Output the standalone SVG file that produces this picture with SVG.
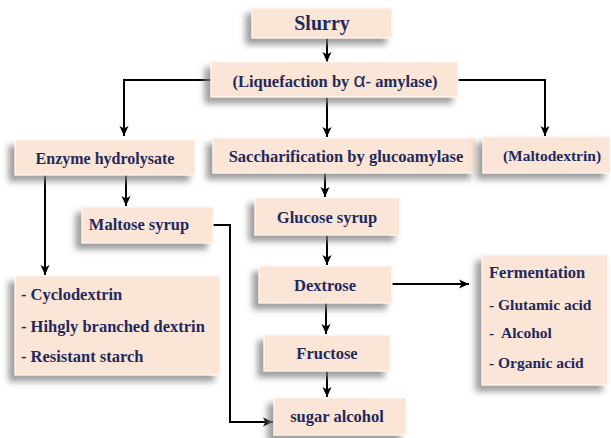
<svg xmlns="http://www.w3.org/2000/svg" width="611" height="438" viewBox="0 0 611 438">
<defs>
<filter id="sh" x="-20%" y="-30%" width="140%" height="170%">
<feDropShadow dx="-6" dy="6" stdDeviation="3" flood-color="#7f7f7f" flood-opacity="0.75"/>
</filter>
<marker id="ah" markerUnits="userSpaceOnUse" markerWidth="10" markerHeight="10" viewBox="0 0 10 10" refX="10" refY="5" orient="auto">
<path d="M0,0.5 L10,5 L0,9.5 L2.5,5 z" fill="#000"/>
</marker>
</defs>
<style>
.box{fill:#fbe5d6;stroke:#fff6ef;stroke-width:1.2;filter:url(#sh)}
.t{font-family:"Liberation Serif","Times New Roman",serif;font-weight:bold;fill:#1f2a5c;font-size:16.5px}
.c{text-anchor:middle}
.ln{fill:none;stroke:#000;stroke-width:2;marker-end:url(#ah)}
</style>
<rect width="611" height="438" fill="#fff"/>
<g id="connectors">
<path class="ln" d="M327,38 V62"/>
<path class="ln" d="M211,80 H124 V136"/>
<path class="ln" d="M327,97 V137"/>
<path class="ln" d="M458,80 H545 V136"/>
<path class="ln" d="M126,175 V206"/>
<path class="ln" d="M45,175 V275"/>
<path class="ln" d="M213,225 H230 V422 H273"/>
<path class="ln" d="M325,173 V197"/>
<path class="ln" d="M327,235 V265"/>
<path class="ln" d="M392,284 H469"/>
<path class="ln" d="M326,303 V334"/>
<path class="ln" d="M327,371 V397"/>
</g>
<g id="slurry"><rect class="box" x="252" y="8" width="140" height="30"/><text class="t c" x="322" y="30" style="font-size:20px">Slurry</text></g>
<g id="liquefaction"><rect class="box" x="211" y="62" width="247" height="35"/><text class="t c" x="335" y="87">(Liquefaction by <tspan style="font-family:'Liberation Sans',Arial,sans-serif;font-weight:normal;font-size:21px">α</tspan>- amylase)</text></g>
<g id="enzyme-hydrolysate"><rect class="box" x="15" y="140" width="180" height="35"/><text class="t c" x="105" y="164" style="font-size:16px">Enzyme hydrolysate</text></g>
<g id="saccharification"><rect class="box" x="213" y="138" width="263" height="35"/><text class="t c" x="346" y="162">Saccharification by glucoamylase</text></g>
<g id="maltodextrin"><rect class="box" x="483" y="137" width="127" height="36"/><text class="t c" x="552" y="161" style="font-size:15.5px">(Maltodextrin)</text></g>
<g id="maltose-syrup"><rect class="box" x="82" y="207" width="131" height="36"/><text class="t c" x="139" y="230">Maltose syrup</text></g>
<g id="glucose-syrup"><rect class="box" x="255" y="198" width="145" height="37"/><text class="t c" x="327" y="223">Glucose syrup</text></g>
<g id="dextrin-list"><rect class="box" x="15" y="276" width="205" height="99"/>
<text class="t" x="21" y="300">- Cyclodextrin</text>
<text class="t" x="21" y="332">- Hihgly branched dextrin</text>
<text class="t" x="21" y="362">- Resistant starch</text></g>
<g id="dextrose"><rect class="box" x="259" y="266" width="133" height="37"/><text class="t c" x="325" y="291">Dextrose</text></g>
<g id="fructose"><rect class="box" x="264" y="335" width="126" height="36"/><text class="t c" x="327" y="359">Fructose</text></g>
<g id="sugar-alcohol"><rect class="box" x="274" y="398" width="132" height="37"/><text class="t c" x="337" y="422">sugar alcohol</text></g>
<g id="fermentation"><rect class="box" x="482" y="255" width="126" height="130"/>
<text class="t" x="489" y="278">Fermentation</text>
<text class="t" x="489" y="310" style="font-size:15.5px">- Glutamic acid</text>
<text class="t" x="489" y="338" style="font-size:15.5px" xml:space="preserve">-  Alcohol</text>
<text class="t" x="489" y="368" style="font-size:15.5px">- Organic acid</text></g>
</svg>
